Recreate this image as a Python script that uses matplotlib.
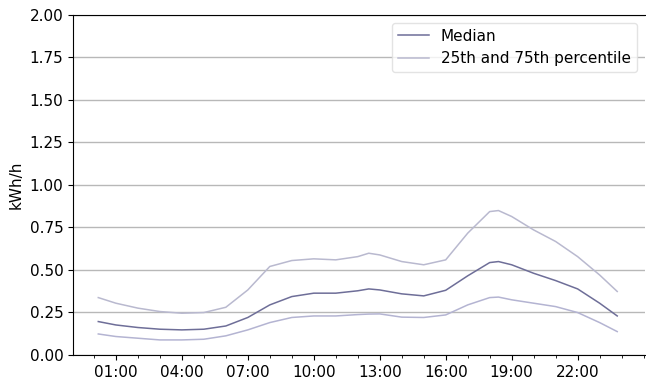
import numpy as np
import matplotlib.pyplot as plt

# hours of the day (x axis) and values
hours = [0.2, 1, 2, 3, 4, 5, 6, 7, 8, 9, 10, 11, 12, 12.5, 13, 14, 15, 16,
         17, 18, 18.4, 19, 20, 21, 22, 23, 23.8]
median = [0.196, 0.176, 0.161, 0.151, 0.147, 0.151, 0.170, 0.220, 0.294,
          0.343, 0.363, 0.363, 0.377, 0.388, 0.382, 0.359, 0.347, 0.380,
          0.465, 0.543, 0.549, 0.530, 0.480, 0.437, 0.388, 0.304, 0.229]
p75 = [0.337, 0.304, 0.275, 0.255, 0.245, 0.249, 0.280, 0.382, 0.520,
       0.555, 0.565, 0.559, 0.578, 0.598, 0.588, 0.549, 0.530, 0.559,
       0.716, 0.843, 0.849, 0.814, 0.735, 0.667, 0.578, 0.470, 0.373]
p25 = [0.123, 0.108, 0.098, 0.088, 0.088, 0.092, 0.112, 0.147, 0.190,
       0.220, 0.229, 0.229, 0.237, 0.240, 0.241, 0.222, 0.220, 0.235,
       0.294, 0.337, 0.340, 0.324, 0.304, 0.284, 0.249, 0.190, 0.137]

tick_hours = [1, 4, 7, 10, 13, 16, 19, 22]
tick_labels = ['01:00', '04:00', '07:00', '10:00', '13:00', '16:00',
               '19:00', '22:00']

fig = plt.figure(figsize=(6.46, 3.82), dpi=100)
ax = fig.add_axes([0.113, 0.071, 0.885, 0.89])

ax.plot(hours, median, color='#6e6e98', lw=1.1, label='Median')
ax.plot(hours, p75, color='#b9b9cf', lw=1.1,
        label='25th and 75th percentile')
ax.plot(hours, p25, color='#b4b4d2', lw=1.1)

ax.set_ylim(0, 2.0)
ax.set_xlim(-0.95, 25.05)
ax.set_yticks(np.arange(0, 2.01, 0.25))
ax.set_xticks(tick_hours)
ax.set_xticklabels(tick_labels)
ax.set_xticks(range(0, 26), minor=True)
ax.yaxis.grid(True, color='#b8b8b8', lw=1)
ax.set_axisbelow(True)
ax.set_ylabel('kWh/h', fontsize=11)
ax.tick_params(labelsize=11)
ax.spines['right'].set_visible(False)

ax.legend(loc='upper right', fontsize=11, edgecolor='#dddddd')

plt.savefig('out.png', dpi=100)
